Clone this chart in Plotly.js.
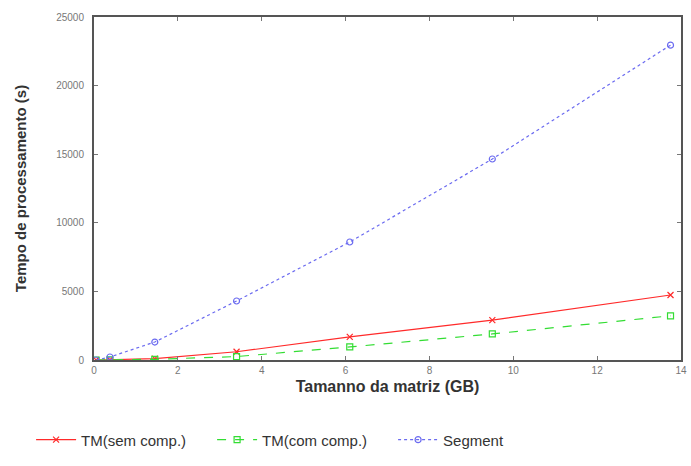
<!DOCTYPE html>
<html><head><meta charset="utf-8">
<script src="https://cdn.plot.ly/plotly-3.0.1.min.js"></script>
<style>body{margin:0;background:#fff}#c{width:691px;height:466px}</style>
</head><body><div id="c"></div>
<script>
const sizesGB = [0.05, 0.38, 1.45, 3.4, 6.1, 9.5, 13.75];
const tmSemComp = [0, 20, 100, 600, 1680, 2910, 4740];
const tmComComp = [0, 10, 50, 250, 950, 1900, 3220];
const segment = [0, 220, 1310, 4300, 8600, 14650, 22950];
const seriesNames = ['TM(sem comp.)', 'TM(com comp.)', 'Segment'];
const xTicks = [0, 2, 4, 6, 8, 10, 12, 14];
const yTicks = [0, 5000, 10000, 15000, 20000, 25000];
const yTickText = ['0', '5000', '10000', '15000', '20000', '25000'];

const traces = [
  {x: sizesGB, y: tmSemComp, name: seriesNames[0], mode: 'lines+markers',
   line: {color: '#ff2a2a', width: 1.2, dash: 'solid'},
   marker: {symbol: 'x-thin-open', size: 6, line: {color: '#ff2a2a', width: 1.2}, color: '#ff2a2a'}},
  {x: sizesGB, y: tmComComp, name: seriesNames[1], mode: 'lines+markers',
   line: {color: '#33dd33', width: 1.2, dash: 'dash'},
   marker: {symbol: 'square-open', size: 6, color: '#33dd33', line: {width: 1.2}}},
  {x: sizesGB, y: segment, name: seriesNames[2], mode: 'lines+markers',
   line: {color: '#6b6bf0', width: 1.2, dash: 'dot'},
   marker: {symbol: 'circle-open', size: 6, color: '#6b6bf0', line: {width: 1.2}}}
];

const axisCommon = {
  showgrid: false, zeroline: false, showline: true, linecolor: '#555', linewidth: 2,
  mirror: 'ticks', ticks: 'inside', ticklen: 4, tickcolor: '#777', tickwidth: 1,
  tickfont: {family: 'Liberation Sans, Arial, sans-serif', size: 10, color: '#777'}
};

const layout = {
  width: 691, height: 466,
  margin: {l: 94, r: 10, t: 17, b: 106, autoexpand: false},
  paper_bgcolor: '#fff', plot_bgcolor: '#fff',
  xaxis: Object.assign({}, axisCommon, {
    range: [0, 14], tickvals: xTicks,
    title: {text: 'Tamanno da matriz (GB)', font: {family: 'Liberation Sans, Arial, sans-serif', size: 16, color: '#333', weight: 'bold'}, standoff: 6}
  }),
  yaxis: Object.assign({}, axisCommon, {
    range: [0, 25000], tickvals: yTicks, ticktext: yTickText,
    ticklabelstandoff: 6,
    title: {text: 'Tempo de processamento (s)', font: {family: 'Liberation Sans, Arial, sans-serif', size: 15, color: '#333', weight: 'bold'}, standoff: 26}
  }),
  showlegend: true,
  legend: {orientation: 'h', xref: 'container', yref: 'container',
    x: 0.045, xanchor: 'left', y: 0.056, yanchor: 'middle',
    font: {family: 'Liberation Sans, Arial, sans-serif', size: 15, color: '#333'},
    itemwidth: 40, entrywidth: 126, entrywidthmode: 'pixels', tracegroupgap: 0}
};

Plotly.newPlot('c', traces, layout, {staticPlot: true});
</script></body></html>
